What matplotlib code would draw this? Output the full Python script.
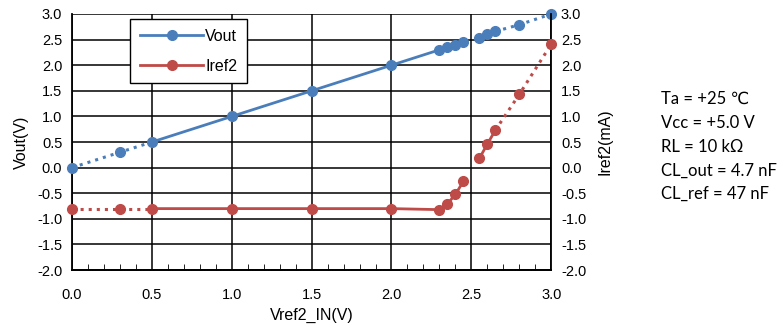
import numpy as np
import matplotlib.pyplot as plt
import matplotlib
from matplotlib.ticker import MultipleLocator

matplotlib.rc('font', family=['Liberation Sans', 'DejaVu Sans'], size=10.5)

# measured data
vref = [0.0, 0.3, 0.5, 1.0, 1.5, 2.0, 2.3, 2.35, 2.4, 2.45, 2.55, 2.6, 2.65, 2.8, 3.0]
vout = [0.0, 0.3, 0.5, 1.0, 1.5, 2.0, 2.3, 2.35, 2.4, 2.45, 2.54, 2.6, 2.66, 2.79, 3.0]
iref2 = [-0.8, -0.8, -0.8, -0.8, -0.8, -0.8, -0.82, -0.71, -0.52, -0.27, 0.18, 0.46, 0.73, 1.43, 2.41]

# line style per segment: (start, end, style)
segs = [(0, 2, ':'), (2, 9, '-'), (10, 12, '-'), (12, 14, ':')]

BLUE = '#4A7EBB'
RED = '#BE4B48'

fig = plt.figure(figsize=(7.83, 3.25), dpi=100)
ax = fig.add_axes([0.092, 0.169, 0.612, 0.788])
ax2 = ax.twinx()

def draw(a, x, y, col):
    x = np.array(x); y = np.array(y)
    for s, e, ls in segs:
        lw = 2.2 if ls == ':' else 2.0
        a.plot(x[s:e+1], y[s:e+1], ls=ls, color=col, lw=lw, zorder=5, clip_on=False)
    a.plot(x, y, 'o', color=col, ms=7, zorder=6, clip_on=False)

draw(ax, vref, vout, BLUE)
draw(ax2, vref, iref2, RED)

for a in (ax, ax2):
    a.set_ylim(-2, 3)
    a.yaxis.set_major_locator(MultipleLocator(0.5))
    a.yaxis.set_major_formatter(matplotlib.ticker.FormatStrFormatter('%.1f'))
    a.tick_params(axis='y', length=0, pad=7)
ax.set_xlim(0, 3)
ax.xaxis.set_major_locator(MultipleLocator(0.5))
ax.xaxis.set_minor_locator(MultipleLocator(0.1))
ax.xaxis.set_major_formatter(matplotlib.ticker.FormatStrFormatter('%.1f'))
ax.tick_params(axis='x', which='major', direction='in', length=0, pad=13)
ax.tick_params(axis='x', which='minor', direction='in', length=4, color='k')
ax.grid(True, which='major', color='k', lw=1.1)
ax.set_axisbelow(True)
for a in (ax, ax2):
    for sp in a.spines.values():
        sp.set_visible(False)
    a.spines['bottom'].set_visible(True)
    a.spines['bottom'].set_linewidth(1.3)
ax.spines['left'].set_visible(True)
ax.spines['left'].set_linewidth(1.3)
ax2.spines['right'].set_visible(True)
ax2.spines['right'].set_linewidth(1.3)

ax.set_xlabel('Vref2_IN(V)', fontsize=11.5, labelpad=4)
ax.set_ylabel('Vout(V)', fontsize=11.5, labelpad=6)
ax2.set_ylabel('Iref2(mA)', fontsize=11.5, labelpad=8)

h1 = ax.plot([], [], '-o', color=BLUE, lw=2, ms=7)[0]
h2 = ax.plot([], [], '-o', color=RED, lw=2, ms=7)[0]
leg = ax2.legend([h1, h2], ['Vout', 'Iref2'], loc='upper left', bbox_to_anchor=(0.121, 0.98),
                 fancybox=False, framealpha=1, edgecolor='k', fontsize=11.5,
                 labelspacing=0.95, handlelength=4.0, borderpad=0.6, handletextpad=0.1,
                 borderaxespad=0)
leg.get_frame().set_linewidth(1.0)
leg.set_zorder(10)

notes = ['Ta = +25 \u2103', 'Vcc = +5.0 V', 'RL = 10 k\u03a9', 'CL_out = 4.7 nF', 'CL_ref = 47 nF']
fig.text(0.844, 0.72, '\n'.join(notes), fontsize=12, va='top', ha='left',
         family=['Lato', 'DejaVu Sans'], linespacing=1.6)

plt.savefig('out.png', dpi=100)
